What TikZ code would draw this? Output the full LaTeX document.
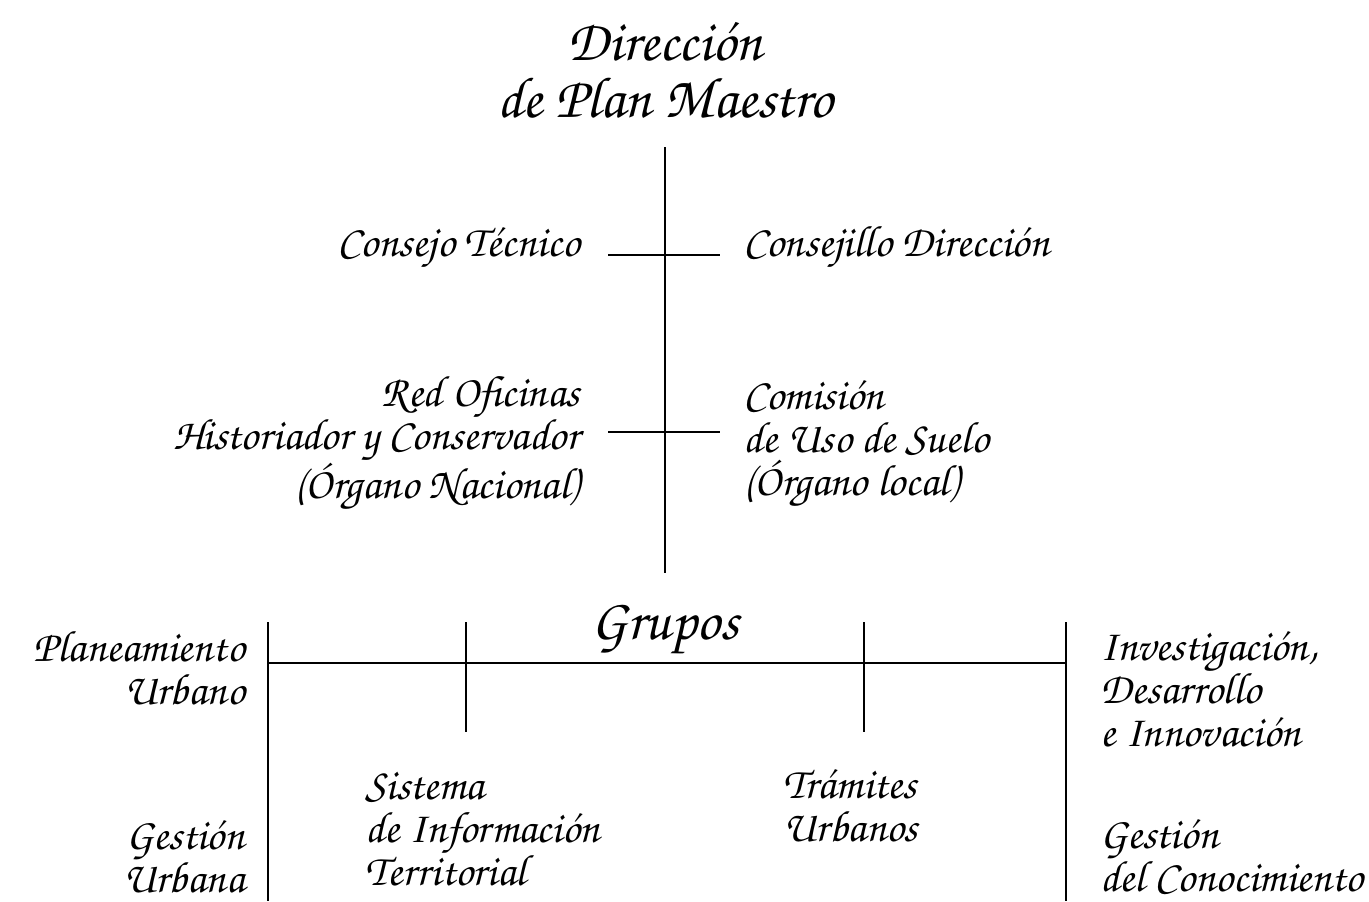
\documentclass[tikz,border=0pt]{standalone}
\usepackage{fontspec}
\newfontfamily\scr{TeX Gyre Chorus}
\begin{document}
\begin{tikzpicture}[x=0.5pt,y=-0.5pt,
  lbl/.style={font=\fontsize{22}{21.5}\selectfont\scr, inner sep=0pt, align=left},
  lblr/.style={lbl, align=right},
  lblc/.style={lbl, align=center},
  big/.style={lblc, font=\fontsize{29}{28.5}\selectfont\scr},
  ln/.style={line width=0.7pt}]
\useasboundingbox (0,0) rectangle (1369,901);
% top
\node[big] (title) at (665,70) {Dirección\\de Plan Maestro};
\coordinate (vtop) at (665,147);
\coordinate (vbot) at (665,573);
\draw[ln] (vtop) -- (vbot);
\coordinate (h1l) at (608,255); \coordinate (h1r) at (720,255);
\coordinate (h2l) at (608,432); \coordinate (h2r) at (720,432);
\draw[ln] (h1l) -- (h1r);
\draw[ln] (h2l) -- (h2r);
\node[lblr, anchor=east] (ct) at (580,247) {Consejo Técnico};
\node[lbl, anchor=west] (cd) at (743,247) {Consejillo Dirección};
\node[lblr, anchor=east] (red) at (580,443) {Red Oficinas\\Historiador y Conservador\\(Órgano Nacional)};
\node[lbl, anchor=west] (com) at (743,443) {Comisión\\de Uso de Suelo\\(Órgano local)};
% groups
\node[big] (grupos) at (665,630) {Grupos};
\coordinate (gl) at (268,663); \coordinate (gr) at (1066,663);
\draw[ln] (gl) -- (gr);
\coordinate (v1t) at (268,622); \coordinate (v1b) at (268,901);
\coordinate (v2t) at (466,622); \coordinate (v2b) at (466,732);
\coordinate (v3t) at (864,622); \coordinate (v3b) at (864,732);
\coordinate (v4t) at (1066,622); \coordinate (v4b) at (1066,901);
\draw[ln] (v1t) -- (v1b);
\draw[ln] (v2t) -- (v2b);
\draw[ln] (v3t) -- (v3b);
\draw[ln] (v4t) -- (v4b);
\node[lblr, anchor=east] (plan) at (245,668) {Planeamiento\\Urbano};
\node[lblr, anchor=east] (gu) at (245,857) {Gestión\\Urbana};
\node[lbl, anchor=west] (sit) at (365,829) {Sistema\\de Información\\Territorial};
\node[lbl, anchor=west] (tra) at (783,806) {Trámites\\Urbanos};
\node[lbl, anchor=west] (idi) at (1100,689) {Investigación,\\Desarrollo\\e Innovación};
\node[lbl, anchor=west] (gc) at (1100,857) {Gestión\\del Conocimiento};
\end{tikzpicture}
\end{document}
